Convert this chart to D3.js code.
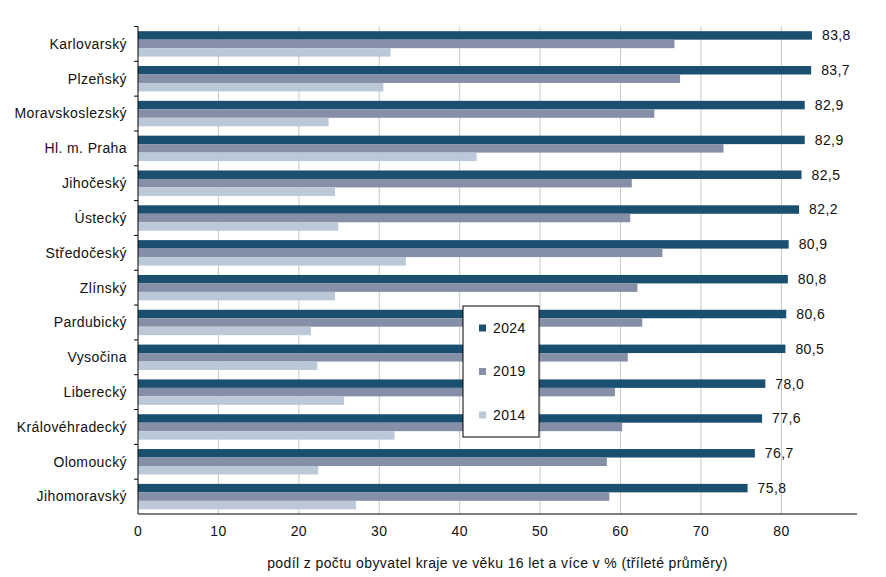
<!DOCTYPE html>
<html><head><meta charset="utf-8">
<script src="https://cdn.jsdelivr.net/npm/d3@7/dist/d3.min.js"></script>
<style>body{margin:0;background:#fff;} text{font-family:"Liberation Sans",Arial,sans-serif;fill:#111;letter-spacing:0.4px;}</style>
</head><body>
<svg id="c" width="886" height="577"></svg>
<script>
const categories = ["Karlovarský","Plzeňský","Moravskoslezský","Hl. m. Praha","Jihočeský","Ústecký","Středočeský","Zlínský","Pardubický","Vysočina","Liberecký","Královéhradecký","Olomoucký","Jihomoravský"];
const series = ["2024","2019","2014"];
const values2024 = [83.8,83.7,82.9,82.9,82.5,82.2,80.9,80.8,80.6,80.5,78.0,77.6,76.7,75.8];
const values2019 = [66.7,67.4,64.2,72.8,61.4,61.2,65.2,62.1,62.7,60.9,59.3,60.2,58.3,58.6];
const values2014 = [31.4,30.5,23.7,42.1,24.5,24.9,33.3,24.5,21.5,22.3,25.6,31.9,22.4,27.1];
const xTicks = [0,10,20,30,40,50,60,70,80];
const colors = {"2024":"#1b4f6f","2019":"#858fa7","2014":"#bac8d8"};
const axisTitle = "podíl z počtu obyvatel kraje ve věku 16 let a více v % (tříleté průměry)";

const data = categories.map((c,i)=>({cat:c, v:{"2024":values2024[i],"2019":values2019[i],"2014":values2014[i]}}));

const svg = d3.select("#c");
const L=138, R=857, T=26.5, B=514;
const FS = 14;
const x = d3.scaleLinear().domain([0,89.4]).range([L,R]);
const y = d3.scaleBand().domain(categories).range([T,B]).paddingInner(0.27).paddingOuter(0.135);
const ys = d3.scaleBand().domain(series).range([0,y.bandwidth()]);

// gridlines
svg.append("g").selectAll("line").data(xTicks.filter(d=>d>0)).join("line")
  .attr("x1",d=>x(d)).attr("x2",d=>x(d)).attr("y1",T).attr("y2",B)
  .attr("stroke","#c8c8c8").attr("stroke-width",1);

// bars
const g = svg.append("g").selectAll("g").data(data).join("g")
  .attr("transform",d=>`translate(0,${y(d.cat)})`);
g.selectAll("rect").data(d=>series.map(s=>({s,v:d.v[s]}))).join("rect")
  .attr("x",x(0)).attr("y",d=>ys(d.s)).attr("height",ys.bandwidth())
  .attr("width",d=>x(d.v)-x(0)).attr("fill",d=>colors[d.s]);

// value labels for 2024
g.append("text").attr("x",d=>x(d.v["2024"])+10).attr("y",ys("2024")+ys.bandwidth()/2)
  .attr("dy","0.35em").attr("font-size",FS).text(d=>d3.format(".1f")(d.v["2024"]).replace(".",","));

// y axis
const ya = svg.append("g").attr("transform",`translate(${L},0)`);
ya.append("line").attr("x1",0).attr("x2",0).attr("y1",T).attr("y2",B).attr("stroke","#000");
ya.selectAll("line.t").data(d3.range(categories.length)).join("line").attr("class","t")
  .attr("x1",-4).attr("x2",0).attr("y1",i=>T+i*(B-T)/categories.length).attr("y2",i=>T+i*(B-T)/categories.length)
  .attr("stroke","#000");
ya.selectAll("text").data(categories).join("text")
  .attr("x",-11).attr("y",d=>y(d)+y.bandwidth()/2).attr("dy","0.35em")
  .attr("text-anchor","end").attr("font-size",FS).text(d=>d);

// x axis
const xa = svg.append("g").attr("transform",`translate(0,${B})`);
xa.append("line").attr("x1",L).attr("x2",R).attr("stroke","#000");
xa.selectAll("text").data(xTicks).join("text")
  .attr("x",d=>x(d)).attr("y",22).attr("text-anchor","middle").attr("font-size",FS).text(d=>d);

svg.append("text").attr("x",(L+R)/2).attr("y",568).attr("text-anchor","middle")
  .attr("font-size",FS).text(axisTitle);

// legend
const lg = svg.append("g").attr("transform","translate(463,306)");
lg.append("rect").attr("width",76).attr("height",131).attr("fill","#fff").attr("stroke","#000");
const li = lg.selectAll("g").data(series).join("g").attr("transform",(d,i)=>`translate(0,${22+i*43.5})`);
li.append("rect").attr("x",16).attr("y",-3.5).attr("width",7).attr("height",7).attr("fill",d=>colors[d]);
li.append("text").attr("x",30).attr("dy","0.35em").attr("font-size",FS).text(d=>d);
</script>
</body></html>
